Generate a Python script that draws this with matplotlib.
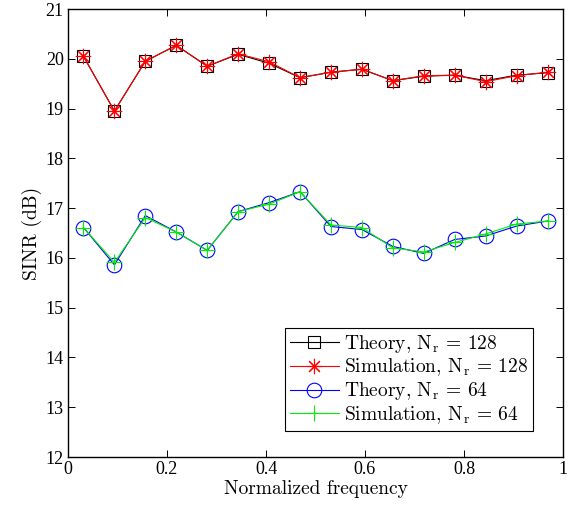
import numpy as np
import matplotlib
matplotlib.use("Agg")
import matplotlib.pyplot as plt

# data (16 frequency bins)
freq = (np.arange(16) + 0.5) / 16

theory_128 = [20.05, 18.95, 19.95, 20.27, 19.85, 20.09, 19.91, 19.62,
              19.73, 19.79, 19.56, 19.65, 19.67, 19.56, 19.67, 19.72]
sim_128 = [20.05, 18.95, 19.95, 20.27, 19.85, 20.10, 19.94, 19.62,
           19.73, 19.79, 19.56, 19.66, 19.67, 19.54, 19.66, 19.73]
theory_64 = [16.61, 15.86, 16.85, 16.52, 16.15, 16.93, 17.11, 17.33,
             16.63, 16.57, 16.23, 16.09, 16.37, 16.44, 16.64, 16.74]
sim_64 = [16.61, 15.91, 16.81, 16.52, 16.15, 16.93, 17.08, 17.33,
          16.66, 16.61, 16.20, 16.12, 16.31, 16.48, 16.68, 16.74]

xticks = [0, 0.2, 0.4, 0.6, 0.8, 1]
xticklabels = ["0", "0.2", "0.4", "0.6", "0.8", "1"]
yticks = list(range(12, 22))

plt.rcParams["mathtext.fontset"] = "cm"
plt.rcParams["axes.formatter.use_mathtext"] = True

fig = plt.figure(figsize=(5.71, 5.07), dpi=100)
ax = fig.add_axes([68 / 571, 1 - 457 / 507, (563 - 68) / 571, (457 - 9) / 507])

ax.plot(freq, theory_128, color="black", lw=0.8, marker="s", ms=9,
        mfc="none", mec="black", mew=0.8, label=r"Theory, $\mathrm{N_r}$ = 128")
ax.plot(freq, sim_128, color="red", lw=0.8, marker=(8, 2, 0), ms=11,
        mfc="none", mec="red", mew=0.8, label=r"Simulation, $\mathrm{N_r}$ = 128")
ax.plot(freq, theory_64, color="blue", lw=0.8, marker="o", ms=10.5,
        mfc="none", mec="blue", mew=0.8, label=r"Theory, $\mathrm{N_r}$ = 64")
ax.plot(freq, sim_64, color="#00ee00", lw=0.8, marker="+", ms=12,
        mec="#00ee00", mew=0.8, label=r"Simulation, $\mathrm{N_r}$ = 64")

ax.set_xlim(0, 1)
ax.set_ylim(12, 21)
ax.set_xticks(xticks)
ax.set_xticklabels(xticklabels, family="Liberation Serif", fontsize=13)
ax.set_yticks(yticks)
ax.set_yticklabels([str(v) for v in yticks], family="Liberation Serif", fontsize=13)
ax.tick_params(direction="in", top=True, right=True, length=5, width=0.7, pad=3)
for s in ax.spines.values():
    s.set_linewidth(1.0)

ax.set_xlabel("Normalized frequency", family="cmr10", fontsize=14, labelpad=1)
ax.set_ylabel("SINR (dB)", family="cmr10", fontsize=14, labelpad=3)

leg = ax.legend(loc="lower right", bbox_to_anchor=(0.94, 0.058),
                prop={"family": "cmr10", "size": 14}, fancybox=False,
                edgecolor="black", framealpha=1, borderpad=0.25,
                labelspacing=0.1, handlelength=2.5, handletextpad=0.3,
                borderaxespad=0)
leg.get_frame().set_linewidth(0.8)

fig.savefig("out.png", dpi=100)
